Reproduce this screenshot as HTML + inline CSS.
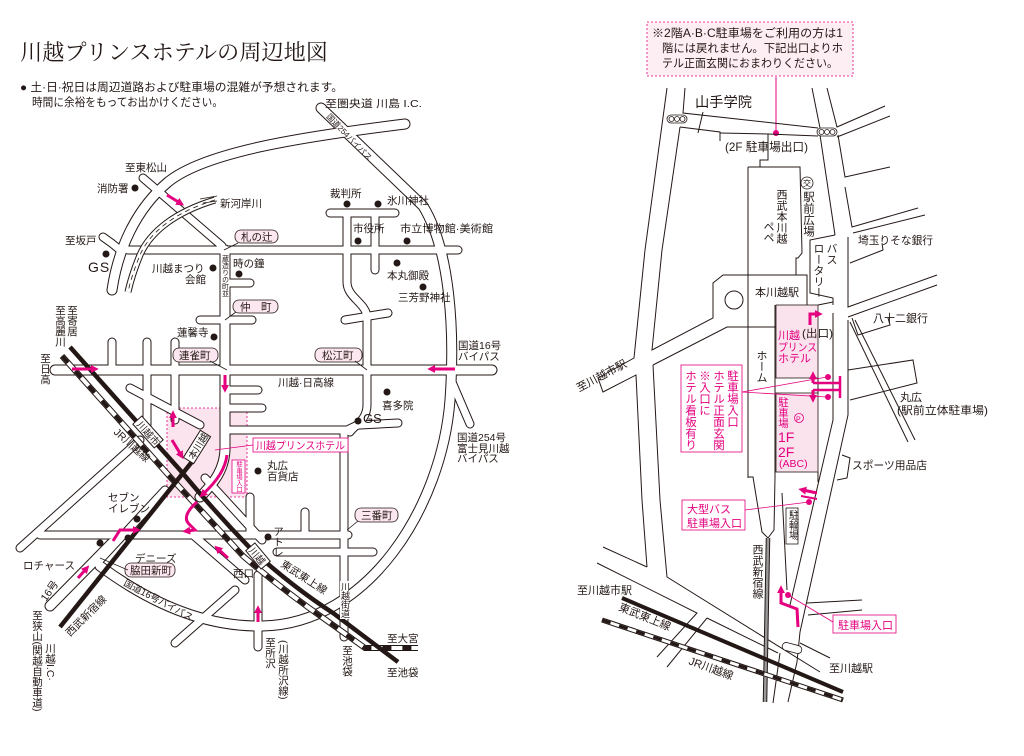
<!DOCTYPE html>
<html><head><meta charset="utf-8"><style>
html,body{margin:0;padding:0;background:#fff}
svg{display:block}
text{font-family:"Liberation Sans","Noto Sans CJK JP",sans-serif;fill:#231815;font-size:10.5px}
.v{writing-mode:vertical-rl}
.p{fill:#e4007f}
.r line,.r polyline,.r path,.r circle{fill:none;stroke:#231815;stroke-width:1}
</style></head><body>
<svg width="1024" height="756" viewBox="0 0 1024 756" xmlns="http://www.w3.org/2000/svg">
<defs>
<marker id="a" viewBox="0 0 10 10" refX="4" refY="5" markerWidth="8" markerHeight="8" markerUnits="userSpaceOnUse" orient="auto"><path d="M0,0L10,5L0,10z" fill="#e4007f"/></marker>
<g id="R9">
<path d="M405,124 C300,137 205,152 168,182 C135,210 118,250 112,290"/>
<path d="M321,108 L423,206 C450,250 455,330 450,400 C442,505 370,624 262,626 C205,627 150,603 100,566"/>
<path d="M55,370 L492,370"/>
<path d="M225,250 L225,448 C225,468 215,482 200,497"/>
<path d="M50,606 L112,543"/>
</g>
<g id="R7">
<path d="M143,178 L222,246"/>
<path d="M103,237 Q112,243 120,250"/>
<path d="M128,250 L458,250"/>
<path d="M230,283 L250,283"/>
<path d="M200,320 L252,320"/>
<path d="M330,213 L395,213"/>
<path d="M347,213 L347,282 C347,298 367,303 367,318 L367,405 C367,420 355,425 350,432"/>
<path d="M375,213 L375,270"/>
<path d="M345,320 L388,313"/>
<path d="M230,430 L347,430 C352,428 356,425 360,425 L398,423"/>
<path d="M344,432 L344,637"/>
<path d="M112,342 L112,370"/>
<path d="M147,342 L147,425"/>
<path d="M175,342 L175,420"/>
<path d="M130,388 L200,425"/>
<path d="M20,548 L140,440"/>
<path d="M40,535 L348,535"/>
<path d="M277,552 L373,552"/>
<path d="M250,497 L250,535"/>
<path d="M305,512 L305,535"/>
<path d="M193,535 L245,580"/>
<path d="M258,575 L258,647"/>
<path d="M235,590 L175,643"/>
<path d="M452,382 L470,424"/>
<path d="M100,560 L165,490"/>
<path d="M205,478 L262,540"/>
<path d="M230,390 L258,390"/>
<path d="M230,408 L262,408"/>
</g>
</defs>

<!-- ===== LEFT MAP ===== -->
<text x="20" y="60" textLength="308" lengthAdjust="spacingAndGlyphs" style="font-family:'Liberation Serif','Noto Serif CJK SC',serif;font-size:22px">川越プリンスホテルの周辺地図</text>
<text x="20" y="91" textLength="323" lengthAdjust="spacingAndGlyphs" style="font-size:11.5px">● 土·日·祝日は周辺道路および駐車場の混雑が予想されます。</text>
<text x="32" y="106" textLength="191" lengthAdjust="spacingAndGlyphs" style="font-size:11.5px">時間に余裕をもってお出かけください。</text>

<rect x="167" y="408" width="80" height="89" fill="#fce4ee" stroke="#e4007f" stroke-width="0.8" stroke-dasharray="2 2"/>

<use href="#R9" fill="none" stroke="#231815" stroke-width="11" stroke-linecap="round" stroke-linejoin="round"/>
<use href="#R7" fill="none" stroke="#231815" stroke-width="9" stroke-linecap="round" stroke-linejoin="round"/>
<use href="#R9" fill="none" stroke="#fff" stroke-width="9" stroke-linecap="round" stroke-linejoin="round"/>
<use href="#R7" fill="none" stroke="#fff" stroke-width="7" stroke-linecap="round" stroke-linejoin="round"/>

<!-- river -->
<path d="M215,200 C175,212 150,232 140,255 C133,272 130,283 128,292" fill="none" stroke="#231815" stroke-width="7"/>
<path d="M215,200 C175,212 150,232 140,255 C133,272 130,283 128,292" fill="none" stroke="#fff" stroke-width="5"/>
<path d="M215,200 C175,212 150,232 140,255 C133,272 130,283 128,292" fill="none" stroke="#231815" stroke-width="0.8" stroke-dasharray="5 4"/>
<path d="M200,199 L217,196 M203,203 L217,201" stroke="#231815" stroke-width="0.8"/>

<!-- railways -->
<path d="M62,356 L172,479 Q208,518 243,556 Q283,590 326,620 L365,648 L418,648" fill="none" stroke="#231815" stroke-width="6"/>
<path d="M62,356 L172,479 Q208,518 243,556 Q283,590 326,620 L365,648 L418,648" fill="none" stroke="#fff" stroke-width="4"/>
<path d="M62,356 L172,479 Q208,518 243,556 Q283,590 326,620 L365,648 L418,648" fill="none" stroke="#231815" stroke-width="4" stroke-dasharray="9 11"/>
<path d="M70,347 L180,470 Q215,512 250,548 Q290,585 333,613 L398,662" fill="none" stroke="#231815" stroke-width="4.5"/>
<path d="M60,627 L195,458" fill="none" stroke="#231815" stroke-width="4.5"/>

<!-- station boxes -->
<g transform="translate(148,432) rotate(48)"><rect x="-16" y="-6" width="32" height="12" fill="#fff" stroke="#231815"/><text x="-13" y="4" style="font-size:9.5px">川越市</text></g>
<g transform="translate(197,447) rotate(-58)"><rect x="-16" y="-6" width="32" height="12" fill="#fff" stroke="#231815"/><text x="-13" y="4" style="font-size:9.5px">本川越</text></g>
<g transform="translate(258,556) rotate(50)"><rect x="-12" y="-6" width="24" height="12" fill="#fff" stroke="#231815"/><text x="-10" y="4" style="font-size:9.5px">川越</text></g>

<!-- left labels -->
<text x="325" y="107" textLength="97" lengthAdjust="spacingAndGlyphs">至圏央道  川島 I.C.</text>
<text transform="translate(326,117) rotate(46)" style="font-size:8px">国道254バイパス</text>
<text x="125" y="171">至東松山</text>
<text x="97" y="192">消防署</text><circle cx="135" cy="188" r="3.5" fill="#231815"/>
<text x="220" y="207">新河岸川</text>
<text x="330" y="197">裁判所</text><circle cx="347" cy="204" r="3.5" fill="#231815"/>
<circle cx="378" cy="204" r="3.5" fill="#231815"/><text x="387" y="204">氷川神社</text>
<text x="353" y="232">市役所</text><circle cx="358" cy="241" r="3.5" fill="#231815"/>
<text x="400" y="232" textLength="93" lengthAdjust="spacingAndGlyphs">市立博物館·美術館</text><circle cx="407" cy="241" r="3.5" fill="#231815"/>
<text x="65" y="244">至坂戸</text>
<text x="88" y="272" style="font-size:14px;letter-spacing:1px">GS</text><circle cx="106" cy="254" r="3.5" fill="#231815"/>
<text x="152" y="272">川越まつり</text><text x="185" y="283">会館</text><circle cx="213" cy="268" r="3.5" fill="#231815"/>
<text x="233" y="267">時の鐘</text><circle cx="239" cy="274" r="3.5" fill="#231815"/>
<text class="v" x="225" y="255" style="font-size:7px">蔵造りの町並</text>
<circle cx="397" cy="263" r="3.5" fill="#231815"/><text x="387" y="279">本丸御殿</text>
<circle cx="423" cy="287" r="3.5" fill="#231815"/><text x="398" y="301">三芳野神社</text>
<text x="177" y="336">蓮馨寺</text><circle cx="214" cy="337" r="3.5" fill="#231815"/>
<text class="v" x="72" y="305">至寄居</text>
<text class="v" x="60" y="305">至高麗川</text>
<text class="v" x="45" y="353">至日高</text>
<text x="458" y="349">国道16号</text><text x="458" y="360">バイパス</text>
<text x="278" y="386">川越·日高線</text>
<circle cx="387" cy="392" r="3.5" fill="#231815"/><text x="382" y="409">喜多院</text>
<circle cx="358" cy="421" r="3.5" fill="#231815"/><text x="363" y="423" style="font-size:13px">GS</text>
<text x="457" y="441">国道254号</text><text x="457" y="452">富士見川越</text><text x="457" y="462">バイパス</text>
<circle cx="258" cy="471" r="3.5" fill="#231815"/><text x="267" y="469">丸広</text><text x="267" y="480">百貨店</text>
<text x="108" y="501">セブン</text><text x="108" y="512">イレブン</text>
<circle cx="137" cy="519" r="3.5" fill="#231815"/><circle cx="128" cy="538" r="3.5" fill="#231815"/><circle cx="100" cy="543" r="3.5" fill="#231815"/>
<text x="23" y="569" textLength="52" lengthAdjust="spacingAndGlyphs">ロチャース</text>
<text x="135" y="562">デニーズ</text>
<text class="v" x="278" y="526">アトレ</text><circle cx="268" cy="537" r="3.5" fill="#231815"/>
<text x="233" y="577">西口</text>
<text transform="translate(280,566) rotate(33)">東武東上線</text>
<rect x="340" y="581" width="9" height="38" fill="#fff"/>
<text class="v" x="345" y="582" style="font-size:9px">川越街道</text>
<text transform="translate(46,602) rotate(-55)">16号</text>
<text transform="translate(123,585) rotate(28)" style="font-size:9.5px">国道16号バイパス</text>
<text transform="translate(70,637) rotate(-45)">西武新宿線</text>
<text transform="translate(113,433) rotate(42)">JR川越線</text>
<text class="v" x="37" y="610">至狭山(関越自動車道)</text>
<text class="v" x="50" y="643">川越I.C·</text>
<text class="v" x="270" y="637">至所沢</text>
<text class="v" x="283" y="640">(川越所沢線)</text>
<text class="v" x="347" y="645">至池袋</text>
<text x="387" y="642">至大宮</text>
<text x="387" y="676">至池袋</text>

<!-- callouts -->
<g fill="#fce6ef" stroke="#231815" stroke-width="0.8">
<rect x="235" y="230" width="43" height="13" rx="6"/>
<rect x="233" y="300" width="45" height="13" rx="6"/>
<rect x="173" y="348" width="45" height="14" rx="6"/>
<rect x="315" y="348" width="47" height="14" rx="6"/>
<rect x="355" y="508" width="43" height="14" rx="6"/>
<rect x="125" y="563" width="50" height="14" rx="6"/>
</g>
<g stroke="#231815" stroke-width="0.8">
<line x1="238" y1="243" x2="224" y2="250"/>
<line x1="236" y1="312" x2="225" y2="320"/>
<line x1="210" y1="361" x2="227" y2="370"/>
<line x1="355" y1="361" x2="367" y2="370"/>
<line x1="358" y1="521" x2="347" y2="530"/>
<line x1="128" y1="570" x2="100" y2="558"/>
</g>
<text x="241" y="240.5">札の辻</text>
<text x="240" y="310.5">仲　町</text>
<text x="179" y="359">連雀町</text>
<text x="322" y="359">松江町</text>
<text x="361" y="519">三番町</text>
<text x="130" y="574">脇田新町</text>

<!-- hotel label -->
<line x1="253" y1="445" x2="215" y2="450" stroke="#e4007f" stroke-width="0.8"/>
<rect x="253" y="438" width="95" height="14" fill="#fff" stroke="#e4007f" stroke-width="0.8"/>
<text class="p" x="256" y="449" textLength="89" lengthAdjust="spacingAndGlyphs">川越プリンスホテル</text>
<rect x="232" y="460" width="13" height="33" fill="#fff" stroke="#e4007f" stroke-width="0.8"/>
<text class="v p" x="238.5" y="461" style="font-size:6.3px">駐車場入口</text>

<!-- pink arrows left -->
<g stroke="#e4007f" stroke-width="3" fill="none" marker-end="url(#a)">
<path d="M167,195 L180,203"/>
<path d="M72,369 L94,369"/>
<path d="M455,369 L432,369"/>
<path d="M225,375 L225,388"/>
<path d="M173,427 L173,415"/>
<path d="M172,440 L181,455"/>
<path d="M227,455 C225,472 213,485 203,494"/>
<path d="M197,502 C188,510 183,518 189,524 L195,530 L187,531"/>
<path d="M113,541 L120,530 L136,530"/>
<path d="M78,578 L86,569"/>
<path d="M228,558 L218,549"/>
<path d="M258,622 L258,610"/>
</g>

<!-- ===== RIGHT MAP ===== -->
<rect x="647" y="22" width="206" height="54" fill="#fdeef4" stroke="#e4007f" stroke-width="0.8" stroke-dasharray="2 2"/>
<text x="652" y="37" textLength="191" lengthAdjust="spacingAndGlyphs" style="font-size:11.5px">※2階A·B·C駐車場をご利用の方は1</text>
<text x="662" y="52" textLength="181" lengthAdjust="spacingAndGlyphs" style="font-size:11.5px">階には戻れません。下記出口よりホ</text>
<text x="662" y="67" textLength="176" lengthAdjust="spacingAndGlyphs" style="font-size:11.5px">テル正面玄関におまわりください。</text>
<line x1="776" y1="77" x2="776" y2="133" stroke="#e4007f" stroke-width="1"/>
<circle cx="776" cy="133" r="3" fill="#e4007f"/>

<rect x="776" y="305" width="42" height="73" fill="#fbe3ee" stroke="#231815" stroke-width="0.8"/>
<rect x="776" y="393" width="42" height="79" fill="#fbe3ee" stroke="#231815" stroke-width="0.8"/>

<g class="r">
<polyline points="667,88 645,250 634,358 598,378"/>
<polyline points="598,378 603,392 636,375 642,500 647,567"/>
<polyline points="685,88 683,113 818,128"/>
<polyline points="680,127 662,250 652,350 713,318 713,283 723,275 748,275"/>
<polyline points="653,365 727,327 748,327"/>
<polyline points="653,365 660,500 667,577 820,672"/>
<polyline points="680,127 720,132 720,141"/>
<line x1="703" y1="112" x2="698" y2="133"/>
<polyline points="720,133 768,134 768,160 760,160 760,167 748,167"/>
<line x1="768" y1="134" x2="818" y2="136"/>
<polyline points="748,167 800,167 802,253 798,258 796,258 796,275"/>
<line x1="748" y1="167" x2="748" y2="478"/>
<polyline points="748,275 807,275 807,305"/>
<line x1="748" y1="327" x2="776" y2="327"/>
<polyline points="775,305 775,477"/>
<polyline points="748,477 753,477 762,532 768,538 774,530 775,477"/>
<line x1="818" y1="378" x2="818" y2="393"/>
<polyline points="812,88 820,128"/>
<polyline points="827,88 837,127 885,106"/>
<polyline points="837,137 890,116"/>
<polyline points="820,135 835,235"/>
<polyline points="838,135 845,177 890,167"/>
<polyline points="845,187 852,227 918,208"/>
<polyline points="853,233 925,215"/>
<polyline points="848,237 848,307 937,275"/>
<polyline points="850,263 883,250 882,243"/>
<polyline points="848,317 937,285"/>
<polyline points="852,318 858,335 890,325 888,318"/>
<polyline points="850,322 908,442"/>
<polyline points="855,320 915,440"/>
<polyline points="848,370 913,360 917,383 850,400"/>
<polyline points="848,320 848,415 800,632 797,662"/>
<polyline points="833,313 833,420 790,605"/>
<polyline points="835,235 810,240 810,293 833,298 833,305"/>
<polyline points="818,305 833,302"/>
<polyline points="842,455 850,458 847,478 837,480"/>
<line x1="807" y1="603" x2="862" y2="600"/>
<line x1="808" y1="615" x2="862" y2="610"/>
<line x1="782" y1="493" x2="787" y2="590"/>
<line x1="780" y1="653" x2="773" y2="703"/>
<line x1="797" y1="662" x2="788" y2="702"/>
<polyline points="707,618 778,653"/>
<polyline points="707,618 667,667"/>
<polyline points="597,563 697,613 657,657"/>
<polyline points="603,547 647,567"/>
<line x1="800" y1="643" x2="830" y2="658"/>
<line x1="818" y1="472" x2="818" y2="482"/>
<circle cx="734" cy="300" r="9"/>
</g>
<!-- right rails -->
<path d="M768,538 L765,702" stroke="#231815" stroke-width="4.5" fill="none"/>
<path d="M768,538 L765,702" stroke="#9a9a9a" stroke-width="2.5" fill="none"/>
<path d="M602,620 L843,700" stroke="#231815" stroke-width="5" fill="none"/>
<path d="M602,620 L843,700" stroke="#fff" stroke-width="3" fill="none"/>
<path d="M602,620 L843,700" stroke="#231815" stroke-width="3" stroke-dasharray="9 9" fill="none"/>
<path d="M622,598 L843,692" stroke="#231815" stroke-width="4" fill="none"/>

<!-- traffic signals -->
<g fill="#fff" stroke="#231815" stroke-width="0.8">
<rect x="667" y="115" width="20" height="8" rx="4"/><circle cx="671.5" cy="119" r="2.5"/><circle cx="677" cy="119" r="2.5"/><circle cx="682.5" cy="119" r="2.5"/>
<rect x="817" y="128" width="20" height="8" rx="4"/><circle cx="821.5" cy="132" r="2.5"/><circle cx="827" cy="132" r="2.5"/><circle cx="832.5" cy="132" r="2.5"/>
<rect x="782" y="644" width="20" height="8" rx="4" transform="rotate(15 792 648)"/>
</g>

<!-- right labels -->
<text x="695" y="107" textLength="57" lengthAdjust="spacingAndGlyphs" style="font-size:14px">山手学院</text>
<text x="725" y="151" textLength="83" lengthAdjust="spacingAndGlyphs" style="font-size:12px">(2F 駐車場出口)</text>
<circle cx="807" cy="183" r="6" fill="#fff" stroke="#231815" stroke-width="0.8"/>
<text x="803" y="186" style="font-size:8px">交</text>
<text class="v" x="808" y="191" style="font-size:11.5px">駅前広場</text>
<text class="v" x="781" y="189" style="font-size:11px">西武本川越</text>
<text class="v" x="768" y="221" style="font-size:11px">ペペ</text>
<text class="v" x="831" y="243" style="font-size:11px">バス</text>
<text class="v" x="818" y="243" style="font-size:11px">ロータリー</text>
<text x="858" y="244" textLength="75" lengthAdjust="spacingAndGlyphs" style="font-size:11px">埼玉りそな銀行</text>
<text x="755" y="296" style="font-size:11px">本川越駅</text>
<text x="873" y="322" style="font-size:11px">八十二銀行</text>
<text x="802" y="337" textLength="31" lengthAdjust="spacingAndGlyphs" style="font-size:11px">(出口)</text>
<text class="p" x="778" y="339" style="font-size:11px">川越</text>
<text class="p" x="778" y="351" textLength="39" lengthAdjust="spacingAndGlyphs" style="font-size:11px">プリンス</text>
<text class="p" x="778" y="362" style="font-size:11px">ホテル</text>
<text class="v p" x="783" y="397" style="font-size:10.5px">駐車場</text>
<circle cx="799" cy="418" r="4.5" fill="none" stroke="#e4007f" stroke-width="0.8"/>
<text class="p" x="796" y="421.5" style="font-size:7px">P</text>
<text class="p" x="778" y="442" style="font-size:14px">1F</text>
<text class="p" x="778" y="457" style="font-size:14px">2F</text>
<text class="p" x="779" y="467" style="font-size:10.5px">(ABC)</text>
<text class="v" x="761" y="350" style="font-size:11px">ホーム</text>
<rect x="681" y="365" width="61" height="87" fill="#fff" stroke="#e4007f" stroke-width="0.8"/>
<text class="v p" x="732" y="370" style="font-size:11.5px">駐車場入口</text>
<text class="v p" x="718" y="370" style="font-size:11.5px">ホテル正面玄関</text>
<text class="v p" x="704" y="370" style="font-size:11.5px">※入口に</text>
<text class="v p" x="690" y="370" style="font-size:11.5px">ホテル看板有り</text>
<text x="900" y="401" style="font-size:11px">丸広</text>
<text x="897" y="414" textLength="91" lengthAdjust="spacingAndGlyphs" style="font-size:11px">(駅前立体駐車場)</text>
<text x="852" y="469" textLength="75" lengthAdjust="spacingAndGlyphs" style="font-size:11px">スポーツ用品店</text>
<rect x="682" y="500" width="63" height="30" fill="#fff" stroke="#e4007f" stroke-width="0.8"/>
<text class="p" x="687" y="513" style="font-size:11px">大型バス</text>
<text class="p" x="687" y="527" style="font-size:11px">駐車場入口</text>
<rect x="786" y="508" width="12" height="36" fill="#fff" stroke="#231815" stroke-width="0.8"/>
<text class="v" x="792" y="510" style="font-size:10px">駐輪場</text>
<text class="v" x="757" y="544" style="font-size:11px">西武新宿線</text>
<rect x="833" y="615" width="63" height="18" fill="#fff" stroke="#e4007f" stroke-width="0.8"/>
<text class="p" x="838" y="629" style="font-size:11px">駐車場入口</text>
<text x="577" y="594" style="font-size:11px">至川越市駅</text>
<text transform="translate(579,392) rotate(-28)" style="font-size:11px">至川越市駅</text>
<text transform="translate(618,610) rotate(22)" style="font-size:11px">東武東上線</text>
<text transform="translate(688,664) rotate(20)" style="font-size:11px">JR川越線</text>
<text x="829" y="672" style="font-size:11px">至川越駅</text>

<!-- pink right -->
<g stroke="#e4007f" stroke-width="0.8">
<line x1="742" y1="392" x2="827" y2="377"/>
<line x1="742" y1="392" x2="827" y2="397"/>
<line x1="745" y1="510" x2="809" y2="502"/>
<line x1="788" y1="595" x2="833" y2="622"/>
</g>
<g fill="#e4007f">
<circle cx="828" cy="377" r="3"/><circle cx="828" cy="397" r="3"/>
<circle cx="809" cy="502" r="3"/><circle cx="788" cy="595" r="3"/>
</g>
<path d="M813,383 L840,383 M813,390 L840,390 M840,376 L840,398" stroke="#e4007f" stroke-width="2.5" fill="none"/>
<g stroke="#e4007f" stroke-width="3" fill="none" marker-end="url(#a)">
<path d="M810,325 L810,314 L818,314"/>
<path d="M813,383 L813,376"/>
<path d="M813,390 L813,398"/>
<path d="M817,493 L803,490"/>
<path d="M798,627 L797,609 L781,603 L781,590"/>
</g>
<line x1="801" y1="496" x2="817" y2="499" stroke="#e4007f" stroke-width="2"/>
</svg>
</body></html>
